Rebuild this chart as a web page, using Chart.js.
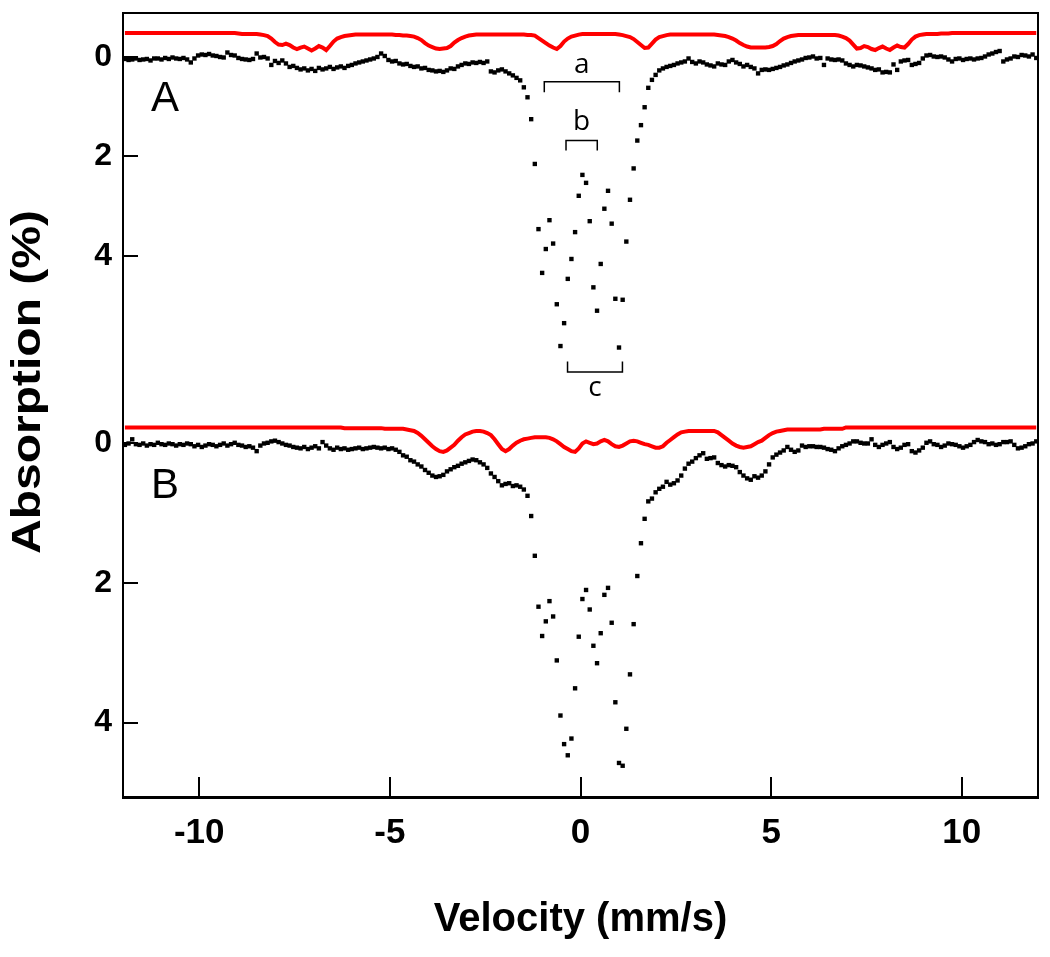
<!DOCTYPE html>
<html>
<head>
<meta charset="utf-8">
<script src="https://cdn.jsdelivr.net/npm/chart.js@4.4.1/dist/chart.umd.min.js"></script>
<style>
  html, body { margin: 0; padding: 0; background: #ffffff; }
  #wrap { width: 1050px; height: 957px; }
</style>
</head>
<body>
<div id="wrap"><canvas id="c" width="1050" height="957"></canvas></div>
<script>
// ---- Data (velocity in mm/s, absorption in %) ----
const velocity = [
-11.950,-11.854,-11.758,-11.662,-11.566,-11.470,-11.374,-11.278,-11.182,-11.086,
-10.990,-10.894,-10.798,-10.702,-10.606,-10.510,-10.414,-10.318,-10.222,-10.126,
-10.030,-9.934,-9.838,-9.742,-9.646,-9.550,-9.454,-9.358,-9.262,-9.166,
-9.070,-8.974,-8.878,-8.782,-8.686,-8.590,-8.494,-8.398,-8.302,-8.206,
-8.110,-8.014,-7.918,-7.822,-7.726,-7.630,-7.534,-7.438,-7.342,-7.246,
-7.150,-7.054,-6.958,-6.862,-6.766,-6.670,-6.574,-6.478,-6.382,-6.286,
-6.190,-6.094,-5.998,-5.902,-5.806,-5.710,-5.614,-5.518,-5.422,-5.326,
-5.230,-5.134,-5.038,-4.942,-4.846,-4.750,-4.654,-4.558,-4.462,-4.366,
-4.270,-4.174,-4.078,-3.982,-3.886,-3.790,-3.694,-3.598,-3.502,-3.406,
-3.310,-3.214,-3.118,-3.022,-2.926,-2.830,-2.734,-2.638,-2.542,-2.446,
-2.350,-2.254,-2.158,-2.062,-1.966,-1.870,-1.774,-1.678,-1.582,-1.486,
-1.390,-1.294,-1.198,-1.102,-1.006,-0.910,-0.814,-0.718,-0.622,-0.526,
-0.430,-0.334,-0.238,-0.142,-0.046,0.050,0.146,0.242,0.338,0.434,
0.530,0.626,0.722,0.818,0.914,1.010,1.106,1.202,1.298,1.394,
1.490,1.586,1.682,1.778,1.874,1.970,2.066,2.162,2.258,2.354,
2.450,2.546,2.642,2.738,2.834,2.930,3.026,3.122,3.218,3.314,
3.410,3.506,3.602,3.698,3.794,3.890,3.986,4.082,4.178,4.274,
4.370,4.466,4.562,4.658,4.754,4.850,4.946,5.042,5.138,5.234,
5.330,5.426,5.522,5.618,5.714,5.810,5.906,6.002,6.098,6.194,
6.290,6.386,6.482,6.578,6.674,6.770,6.866,6.962,7.058,7.154,
7.250,7.346,7.442,7.538,7.634,7.730,7.826,7.922,8.018,8.114,
8.210,8.306,8.402,8.498,8.594,8.690,8.786,8.882,8.978,9.074,
9.170,9.266,9.362,9.458,9.554,9.650,9.746,9.842,9.938,10.034,
10.130,10.226,10.322,10.418,10.514,10.610,10.706,10.802,10.898,10.994,
11.090,11.186,11.282,11.378,11.474,11.570,11.666,11.762,11.858,11.954
];

// Panel A: measured spectrum
const absorptionA = [
0.04,0.06,0.05,0.03,0.06,0.05,0.04,0.07,0.03,0.03,
0.05,0.02,0.04,0.01,0.03,0.04,0.02,0.05,0.11,0.03,
-0.03,-0.05,-0.04,-0.06,-0.03,-0.02,0.00,0.01,-0.09,-0.04,
-0.03,0.02,0.04,0.05,0.06,0.04,-0.07,0.01,0.00,0.03,
0.16,0.08,0.12,0.07,0.13,0.20,0.18,0.22,0.25,0.23,
0.27,0.24,0.28,0.22,0.25,0.23,0.20,0.24,0.21,0.19,
0.22,0.18,0.16,0.13,0.11,0.09,0.07,0.05,0.03,0.00,
-0.07,-0.02,0.06,0.09,0.08,0.13,0.15,0.14,0.18,0.20,
0.19,0.23,0.22,0.26,0.27,0.29,0.28,0.30,0.27,0.23,
0.24,0.19,0.16,0.13,0.14,0.11,0.12,0.10,0.12,0.09,
0.29,0.31,0.27,0.25,0.29,0.33,0.37,0.42,0.47,0.61,
0.81,1.25,2.15,3.46,4.34,3.86,3.28,3.75,4.97,5.81,
5.35,4.46,4.06,3.52,2.79,2.37,2.53,3.30,4.63,5.10,
4.16,3.05,2.69,3.35,4.86,5.84,4.88,3.71,2.87,2.24,
1.68,1.37,1.01,0.62,0.46,0.36,0.27,0.23,0.20,0.18,
0.16,0.13,0.11,0.09,0.03,0.10,0.13,0.09,0.11,0.15,
0.17,0.19,0.13,0.15,0.16,0.09,0.06,0.11,0.14,0.19,
0.16,0.20,0.23,0.33,0.26,0.25,0.26,0.24,0.22,0.20,
0.17,0.15,0.12,0.09,0.07,0.05,0.02,0.01,-0.01,0.03,
0.02,0.16,0.03,0.05,0.06,0.05,0.07,0.13,0.16,0.19,
0.16,0.17,0.19,0.21,0.23,0.26,0.25,0.31,0.30,0.31,
0.15,0.26,0.09,0.07,0.06,0.16,0.14,0.12,0.03,-0.03,
-0.04,-0.01,0.00,-0.01,0.01,0.05,0.09,0.04,0.03,0.06,
0.04,0.03,0.05,0.03,0.02,-0.01,-0.05,-0.07,-0.10,-0.12,
0.09,0.05,0.03,-0.01,0.00,-0.04,-0.03,-0.01,-0.05,0.02
];

// Panel A: fitted curve (drawn offset above the data)
const fitA = [
-0.48,-0.48,-0.48,-0.48,-0.48,-0.48,-0.48,-0.48,-0.48,-0.48,
-0.48,-0.48,-0.48,-0.48,-0.48,-0.48,-0.48,-0.48,-0.48,-0.48,
-0.48,-0.48,-0.48,-0.48,-0.48,-0.48,-0.48,-0.48,-0.48,-0.48,
-0.48,-0.47,-0.46,-0.46,-0.46,-0.46,-0.46,-0.45,-0.44,-0.42,
-0.37,-0.30,-0.25,-0.24,-0.27,-0.24,-0.19,-0.16,-0.19,-0.21,
-0.17,-0.13,-0.17,-0.22,-0.19,-0.14,-0.22,-0.31,-0.37,-0.40,
-0.42,-0.43,-0.44,-0.45,-0.45,-0.45,-0.45,-0.45,-0.45,-0.45,
-0.45,-0.45,-0.45,-0.45,-0.44,-0.44,-0.43,-0.43,-0.42,-0.41,
-0.38,-0.34,-0.28,-0.23,-0.20,-0.17,-0.16,-0.17,-0.18,-0.22,
-0.29,-0.34,-0.38,-0.41,-0.43,-0.44,-0.45,-0.45,-0.45,-0.45,
-0.45,-0.45,-0.45,-0.45,-0.45,-0.45,-0.45,-0.45,-0.45,-0.45,
-0.44,-0.44,-0.43,-0.38,-0.33,-0.28,-0.23,-0.19,-0.16,-0.22,
-0.31,-0.37,-0.41,-0.43,-0.45,-0.46,-0.46,-0.46,-0.46,-0.46,
-0.46,-0.46,-0.46,-0.46,-0.46,-0.45,-0.44,-0.42,-0.40,-0.36,
-0.30,-0.24,-0.18,-0.19,-0.27,-0.35,-0.40,-0.42,-0.44,-0.45,
-0.45,-0.45,-0.45,-0.45,-0.45,-0.45,-0.45,-0.45,-0.45,-0.45,
-0.45,-0.45,-0.44,-0.43,-0.42,-0.40,-0.37,-0.33,-0.28,-0.24,
-0.21,-0.19,-0.19,-0.19,-0.19,-0.19,-0.20,-0.22,-0.26,-0.32,
-0.37,-0.40,-0.42,-0.43,-0.44,-0.44,-0.44,-0.44,-0.44,-0.44,
-0.44,-0.44,-0.44,-0.44,-0.44,-0.43,-0.41,-0.38,-0.33,-0.25,
-0.17,-0.18,-0.22,-0.20,-0.16,-0.14,-0.18,-0.21,-0.17,-0.14,
-0.19,-0.23,-0.20,-0.19,-0.26,-0.35,-0.41,-0.44,-0.45,-0.46,
-0.46,-0.46,-0.46,-0.47,-0.47,-0.47,-0.48,-0.48,-0.48,-0.48,
-0.48,-0.48,-0.48,-0.48,-0.48,-0.48,-0.48,-0.48,-0.48,-0.48,
-0.48,-0.48,-0.48,-0.48,-0.48,-0.48,-0.48,-0.48,-0.48,-0.48
];

// Panel B: measured spectrum
const absorptionB = [
0.02,0.00,-0.06,0.01,0.02,0.00,0.03,0.01,0.02,-0.01,
0.01,0.02,0.00,0.01,0.03,0.01,0.02,0.00,0.01,0.04,
0.02,0.05,0.03,0.01,0.02,0.04,0.02,0.00,0.03,0.01,
-0.01,0.02,0.03,0.05,0.04,0.06,0.11,0.03,0.00,-0.01,
-0.03,-0.04,-0.02,0.00,0.02,0.03,0.05,0.06,0.07,0.05,
0.08,0.06,0.04,0.07,-0.02,0.03,0.07,0.09,0.06,0.08,
0.07,0.09,0.08,0.07,0.06,0.08,0.07,0.06,0.05,0.06,
0.07,0.06,0.08,0.07,0.09,0.12,0.17,0.19,0.24,0.26,
0.30,0.33,0.38,0.42,0.46,0.48,0.47,0.45,0.40,0.37,
0.34,0.32,0.29,0.27,0.25,0.23,0.24,0.27,0.30,0.35,
0.43,0.48,0.54,0.60,0.58,0.57,0.61,0.60,0.62,0.66,
0.75,1.04,1.61,2.34,2.76,2.55,2.26,2.48,3.11,3.90,
4.31,4.47,4.23,3.51,2.77,2.23,2.10,2.38,2.90,3.15,
2.72,2.17,2.07,2.57,3.71,4.58,4.62,4.09,3.31,2.59,
1.90,1.43,1.08,0.83,0.79,0.70,0.65,0.62,0.55,0.59,
0.57,0.53,0.46,0.36,0.29,0.26,0.21,0.17,0.14,0.22,
0.21,0.20,0.28,0.31,0.33,0.31,0.32,0.34,0.41,0.46,
0.50,0.52,0.47,0.49,0.46,0.40,0.30,0.20,0.16,0.13,
0.10,0.05,0.09,0.12,0.10,0.03,0.05,0.04,0.04,0.05,
0.05,0.06,0.08,0.09,0.11,0.07,0.04,0.02,0.00,-0.03,
-0.03,-0.01,0.00,0.00,-0.06,0.02,0.05,0.02,0.00,-0.02,
0.05,0.08,0.06,0.02,0.01,0.11,0.13,0.10,0.06,-0.01,
-0.03,0.01,0.02,0.05,0.03,0.00,0.01,0.02,0.04,0.06,
0.04,0.02,-0.02,-0.05,-0.03,-0.02,0.01,0.00,0.02,0.01,
-0.02,-0.02,-0.03,0.02,0.07,0.06,0.04,0.01,0.00,-0.03
];

// Panel B: fitted curve (drawn offset above the data)
const fitB = [
-0.23,-0.23,-0.23,-0.23,-0.23,-0.23,-0.23,-0.23,-0.23,-0.23,
-0.23,-0.23,-0.23,-0.23,-0.23,-0.23,-0.23,-0.23,-0.23,-0.23,
-0.23,-0.23,-0.23,-0.23,-0.23,-0.23,-0.23,-0.23,-0.23,-0.23,
-0.23,-0.23,-0.23,-0.23,-0.23,-0.23,-0.23,-0.23,-0.23,-0.23,
-0.23,-0.23,-0.23,-0.23,-0.23,-0.23,-0.23,-0.23,-0.23,-0.23,
-0.23,-0.23,-0.23,-0.23,-0.23,-0.23,-0.23,-0.23,-0.23,-0.23,
-0.22,-0.22,-0.22,-0.22,-0.22,-0.22,-0.22,-0.22,-0.22,-0.22,
-0.22,-0.21,-0.21,-0.21,-0.21,-0.21,-0.21,-0.20,-0.19,-0.18,
-0.15,-0.11,-0.06,-0.01,0.04,0.08,0.11,0.12,0.10,0.06,
0.02,-0.04,-0.09,-0.13,-0.15,-0.17,-0.18,-0.18,-0.17,-0.15,
-0.12,-0.06,0.01,0.08,0.11,0.08,0.03,-0.01,-0.04,-0.06,
-0.07,-0.08,-0.09,-0.09,-0.09,-0.09,-0.08,-0.06,-0.03,0.01,
0.05,0.08,0.11,0.12,0.07,0.00,-0.03,-0.01,0.01,0.00,
-0.03,-0.05,-0.03,0.01,0.04,0.05,0.03,0.00,-0.03,-0.04,
-0.03,-0.01,0.01,0.02,0.04,0.06,0.06,0.04,-0.01,-0.05,
-0.09,-0.13,-0.16,-0.17,-0.18,-0.18,-0.18,-0.18,-0.18,-0.18,
-0.18,-0.18,-0.16,-0.12,-0.08,-0.04,0.00,0.03,0.05,0.06,
0.05,0.04,0.01,-0.02,-0.04,-0.08,-0.12,-0.15,-0.17,-0.18,
-0.19,-0.20,-0.20,-0.20,-0.20,-0.20,-0.20,-0.20,-0.20,-0.20,
-0.20,-0.21,-0.21,-0.21,-0.21,-0.21,-0.21,-0.23,-0.23,-0.23,
-0.23,-0.23,-0.23,-0.23,-0.23,-0.23,-0.23,-0.23,-0.23,-0.23,
-0.23,-0.23,-0.23,-0.23,-0.23,-0.23,-0.23,-0.23,-0.23,-0.23,
-0.23,-0.23,-0.23,-0.23,-0.23,-0.23,-0.23,-0.23,-0.23,-0.23,
-0.23,-0.23,-0.23,-0.23,-0.23,-0.23,-0.23,-0.23,-0.23,-0.23,
-0.23,-0.23,-0.23,-0.23,-0.23,-0.23,-0.23,-0.23,-0.23,-0.23
];

// Ticks
const xTickValues = [-10, -5, 0, 5, 10];
const yTickValuesA = [0, 2, 4];
const yTickValuesB = [0, 2, 4];

// Splitting brackets in panel A (velocity from/to, absorption of bar and of tips, label)
const bracketNames = ['a', 'b', 'c'];
const bracketFrom  = [-0.95, -0.38, -0.34];
const bracketTo    = [1.02, 0.44, 1.10];
const bracketBar   = [0.50, 1.68, 6.33];
const bracketTip   = [0.71, 1.88, 6.12];
const bracketTextY = [0.16, 1.30, 6.66];

// Panel labels
const panelNames = ['A', 'B'];
const panelAxes  = ['yA', 'yB'];
const panelX     = [-10.9, -10.9];
const panelY     = [0.86, 0.62];

// ---- build ----
const FONT = "'Liberation Sans', Arial, Helvetica, sans-serif";
const pts = (ys) => velocity.map((v, i) => ({ x: v, y: ys[i] }));

const datasets = [
  { type: 'line', data: pts(fitA), yAxisID: 'yA', borderColor: '#ff0000', borderWidth: 4,
    pointRadius: 0, tension: 0, fill: false },
  { type: 'scatter', data: pts(absorptionA), yAxisID: 'yA', pointStyle: 'rect',
    pointRadius: 3.1, backgroundColor: '#000', borderWidth: 0 },
  { type: 'line', data: pts(fitB), yAxisID: 'yB', borderColor: '#ff0000', borderWidth: 4,
    pointRadius: 0, tension: 0, fill: false },
  { type: 'scatter', data: pts(absorptionB), yAxisID: 'yB', pointStyle: 'rect',
    pointRadius: 3.1, backgroundColor: '#000', borderWidth: 0 }
];
bracketNames.forEach((n, k) => {
  datasets.push({
    type: 'line', yAxisID: 'yA', borderColor: '#000', borderWidth: 1.5,
    pointRadius: 0, tension: 0, fill: false,
    data: [
      { x: bracketFrom[k], y: bracketTip[k] },
      { x: bracketFrom[k], y: bracketBar[k] },
      { x: bracketTo[k], y: bracketBar[k] },
      { x: bracketTo[k], y: bracketTip[k] }
    ]
  });
});

const framePlugin = {
  id: 'frame',
  afterDraw(chart) {
    const { ctx, chartArea: a } = chart;
    ctx.save();
    ctx.strokeStyle = '#000';
    ctx.lineWidth = 2;
    ctx.beginPath();
    ctx.moveTo(a.left, a.top);
    ctx.lineTo(a.right, a.top);
    ctx.lineTo(a.right, a.bottom);
    ctx.stroke();
    ctx.restore();
  }
};

const textPlugin = {
  id: 'texts',
  afterDraw(chart) {
    const { ctx, scales } = chart;
    ctx.save();
    ctx.fillStyle = '#000';
    ctx.textAlign = 'center';
    ctx.textBaseline = 'middle';
    // panel letters
    ctx.font = '42px ' + FONT;
    panelNames.forEach((n, k) => {
      ctx.fillText(n, scales.x.getPixelForValue(panelX[k]), scales[panelAxes[k]].getPixelForValue(panelY[k]));
    });
    // bracket letters
    ctx.font = "28px 'Open Sans', " + FONT;
    bracketNames.forEach((n, k) => {
      const xm = (bracketFrom[k] + bracketTo[k]) / 2;
      ctx.fillText(n, scales.x.getPixelForValue(xm), scales.yA.getPixelForValue(bracketTextY[k]));
    });
    // y title
    ctx.translate(29, 382);
    ctx.rotate(-Math.PI / 2);
    ctx.scale(1.2, 1);
    ctx.font = 'bold 40px ' + FONT;
    ctx.fillText('Absorption (%)', 0, 0);
    ctx.restore();
  }
};

const yCommon = (ticks) => ({
  type: 'linear',
  position: 'left',
  reverse: true,
  stack: 'panels',
  afterBuildTicks: (s) => { s.ticks = ticks.map(v => ({ value: v })); },
  afterFit: (s) => { s.width = 123; s.paddingTop = 0; s.paddingBottom = 0; s.paddingLeft = 0; s.paddingRight = 0; },
  grid: { display: true, drawOnChartArea: false, drawTicks: true, tickLength: -15, color: '#000', lineWidth: 2 },
  border: { display: true, color: '#000', width: 2 },
  ticks: { color: '#000', padding: 26, font: { family: FONT, size: 32, weight: 'bold' },
           callback: (v) => String(v) }
});

new Chart(document.getElementById('c'), {
  type: 'scatter',
  data: { datasets },
  options: {
    responsive: false,
    animation: false,
    events: [],
    layout: { autoPadding: false, padding: { top: 13, right: 12, left: 0, bottom: 0 } },
    plugins: { legend: { display: false }, tooltip: { enabled: false } },
    scales: {
      x: {
        type: 'linear', position: 'bottom', min: -12, max: 12,
        afterBuildTicks: (s) => { s.ticks = xTickValues.map(v => ({ value: v })); },
        afterFit: (s) => { s.height = 160; s.paddingTop = 0; s.paddingBottom = 0; s.paddingLeft = 0; s.paddingRight = 0; },
        grid: { display: true, drawOnChartArea: false, drawTicks: true, tickLength: -20, color: '#000', lineWidth: 2 },
        border: { display: true, color: '#000', width: 3 },
        ticks: { color: '#000', padding: 35, maxRotation: 0, font: { family: FONT, size: 35, weight: 'bold' },
                 callback: (v) => String(v) },
        title: { display: true, text: 'Velocity (mm/s)', color: '#000',
                 font: { family: FONT, size: 40, weight: 'bold' }, padding: { top: 0, bottom: 13 } }
      },
      yA: Object.assign(yCommon(yTickValuesA), { min: -0.884, max: 6.794, stackWeight: 382, weight: 1 }),
      yB: Object.assign(yCommon(yTickValuesB), { min: -0.695, max: 5.068, stackWeight: 402, weight: 0 })
    }
  },
  plugins: [framePlugin, textPlugin]
});
</script>
</body>
</html>
